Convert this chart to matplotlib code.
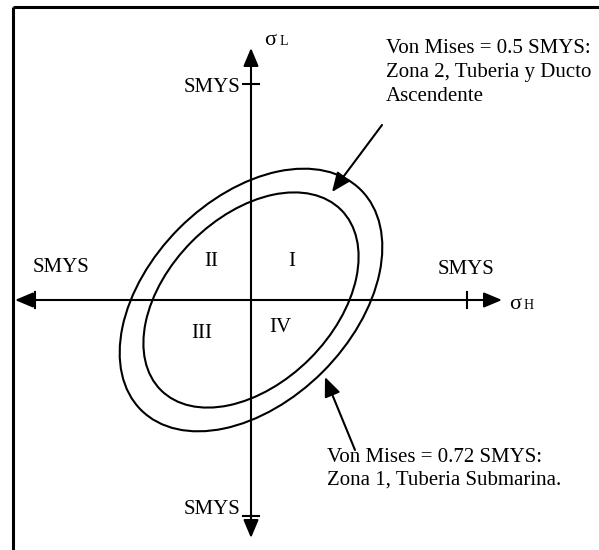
import matplotlib
matplotlib.use("Agg")
import matplotlib.pyplot as plt
from matplotlib.patches import Ellipse, FancyArrowPatch
from matplotlib.lines import Line2D

plt.rcParams["font.family"] = ["Liberation Serif", "DejaVu Serif"]

# ---------------- data (stress units: SMYS, as drawn) ----------------
ellipse_names = ["Zona 1 (0.72 SMYS)", "Zona 2 (0.5 SMYS)"]
ellipse_semi_major = [0.72, 0.59]     # along the 45 deg direction
ellipse_semi_minor = [0.47, 0.385]
ellipse_angle_deg = 45
smys_tick = 1.0
quadrant_labels = ["I", "II", "III", "IV"]
axis_names = ["\u03c3", "L", "\u03c3", "H"]
annot_top = ["Von Mises = 0.5 SMYS:", "Zona 2, Tuberia y Ducto", "Ascendente"]
annot_bottom = ["Von Mises = 0.72 SMYS:", "Zona 1, Tuberia Submarina."]

# ---------------- layout helpers ----------------
W, H = 599, 550
S = 216.0          # pixels per SMYS
CX, CY = 251, 300  # pixel position of the origin


def P(px, py):
    return ((px - CX) / S, (CY - py) / S)


fig = plt.figure(figsize=(W / 100, H / 100), dpi=100)
fig.patch.set_facecolor("white")
ax = fig.add_axes([0, 0, 1, 1])
ax.set_xlim(-CX / S, (W - CX) / S)
ax.set_ylim(-(H - CY) / S, CY / S)
ax.axis("off")

# page border (top and left only)
fig.add_artist(Line2D([13 / W, 1], [1 - 7 / H, 1 - 7 / H], color="black", lw=2.2,
                      transform=fig.transFigure, solid_capstyle="butt"))
fig.add_artist(Line2D([13 / W, 13 / W], [0, 1 - 7 / H], color="black", lw=2.2,
                      transform=fig.transFigure, solid_capstyle="butt"))

# axes with arrow heads at both ends
ast = "<|-|>,head_length=1.0,head_width=0.42"
ax.add_patch(FancyArrowPatch(P(15, CY), P(502, CY), arrowstyle=ast, mutation_scale=11,
                             lw=1.5, color="black", shrinkA=0, shrinkB=0))
ax.add_patch(FancyArrowPatch(P(CX, 538), P(CX, 48), arrowstyle=ast, mutation_scale=11,
                             lw=1.5, color="black", shrinkA=0, shrinkB=0))

# SMYS ticks
t = 8 / S
for v in (-smys_tick, smys_tick):
    ax.plot([v, v], [-t, t], color="black", lw=1.5)
    ax.plot([-t, t], [v, v], color="black", lw=1.5)

# von Mises ellipses
for a, b in zip(ellipse_semi_major, ellipse_semi_minor):
    ax.add_patch(Ellipse((0, 0), 2 * a, 2 * b, angle=ellipse_angle_deg,
                         fill=False, ec="black", lw=1.5))

fs = 15
# SMYS labels
ax.text(*P(240, 87), "SMYS", ha="right", va="center", fontsize=fs)
ax.text(*P(240, 510), "SMYS", ha="right", va="center", fontsize=fs)
ax.text(*P(61, 268), "SMYS", ha="center", va="center", fontsize=fs)
ax.text(*P(466, 269), "SMYS", ha="center", va="center", fontsize=fs)

# axis names
ax.text(*P(264, 45), axis_names[0], ha="left", va="baseline", fontsize=16)
ax.text(*P(280, 45), axis_names[1], ha="left", va="baseline", fontsize=10)
ax.text(*P(509, 309), axis_names[2], ha="left", va="baseline", fontsize=16)
ax.text(*P(524, 309), axis_names[3], ha="left", va="baseline", fontsize=10)

# quadrant numerals
for lab, (px, py) in zip(quadrant_labels, [(292, 261), (211, 261), (202, 334), (280, 327)]):
    ax.text(*P(px, py), lab, ha="center", va="center", fontsize=fs)

# annotations
for line, by in zip(annot_top, [53, 77, 101]):
    ax.text(*P(386, by), line, ha="left", va="baseline", fontsize=fs)
for line, by in zip(annot_bottom, [462, 485]):
    ax.text(*P(327, by), line, ha="left", va="baseline", fontsize=fs)

arr = "-|>,head_length=0.9,head_width=0.38"
ax.add_patch(FancyArrowPatch(P(382, 125), P(332, 192), arrowstyle=arr, mutation_scale=13,
                             lw=1.5, color="black", shrinkA=0, shrinkB=0))
ax.add_patch(FancyArrowPatch(P(355, 450), P(325, 377), arrowstyle=arr, mutation_scale=13,
                             lw=1.5, color="black", shrinkA=0, shrinkB=0))

fig.savefig("out.png", dpi=100, facecolor="white")
